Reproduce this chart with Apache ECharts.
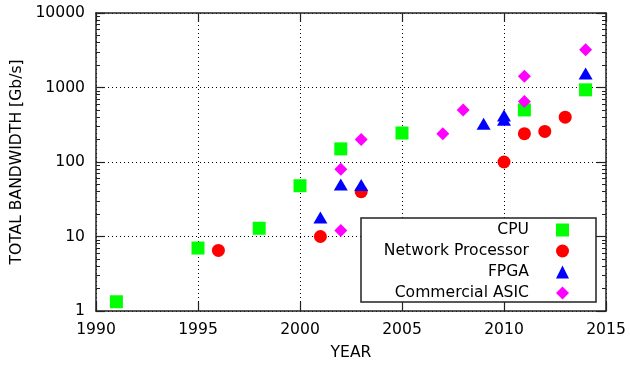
<!DOCTYPE html>
<html><head><meta charset="utf-8">
<script src="https://cdn.jsdelivr.net/npm/echarts@6/dist/echarts.min.js"></script>
<style>html,body{margin:0;padding:0;background:#fff}#c{width:630px;height:366px}</style>
</head><body><div id="c"></div>
<script>
const seriesNames = ['CPU', 'Network Processor', 'FPGA', 'Commercial ASIC'];
const cpuYears = [1991, 1995, 1998, 2000, 2002, 2005, 2011, 2014];
const cpuValues = [1.33, 7, 12.9, 48, 150, 245, 500, 930];
const npYears = [1996, 2001, 2003, 2010, 2011, 2012, 2013];
const npValues = [6.5, 10, 40, 100, 240, 257, 400];
const fpgaYears = [2001, 2002, 2003, 2009, 2010, 2010, 2014];
const fpgaValues = [18, 50, 49, 325, 420, 370, 1540];
const asicYears = [2002, 2002, 2003, 2007, 2008, 2011, 2011, 2014];
const asicValues = [12, 80, 200, 240, 500, 650, 1420, 3200];
const xTicks = [1990, 1995, 2000, 2005, 2010, 2015];
const yTicks = [1, 10, 100, 1000, 10000];
const yMinorTicks = [2, 3, 4, 5, 6, 7, 8, 9, 20, 30, 40, 50, 60, 70, 80, 90,
  200, 300, 400, 500, 600, 700, 800, 900, 2000, 3000, 4000, 5000, 6000, 7000, 8000, 9000];

const FONT = 'DejaVu Sans';
const FS = 15.6;
function pairs(xs, ys) { return xs.map((x, i) => [x, ys[i]]); }

const black = '#000';
const frame = '#222';
const baseX = {
  type: 'value', min: xTicks[0], max: xTicks[xTicks.length - 1], interval: 5,
  axisLine: { show: true, lineStyle: { color: frame, width: 1.5 } },
  axisTick: { show: true, inside: true, length: 9, lineStyle: { color: frame, width: 1.2 } },
  axisLabel: { show: false },
  splitLine: { show: false }
};
const baseY = {
  type: 'log', logBase: 10, min: yTicks[0], max: yTicks[yTicks.length - 1],
  axisLine: { show: true, lineStyle: { color: frame, width: 1.5 } },
  axisTick: { show: true, inside: true, length: 9, lineStyle: { color: frame, width: 1.2 } },
  axisLabel: { show: false },
  splitLine: { show: false }
};
const minorTick = { show: true, inside: true, length: 4, lineStyle: { color: frame, width: 1 }, customValues: yMinorTicks };

const option = {
  animation: false,
  backgroundColor: '#fff',
  grid: { left: 96, right: 24, top: 13, bottom: 53.5, containLabel: false },
  xAxis: [
    Object.assign({}, baseX, {
      position: 'bottom',
      axisLabel: { show: true, color: black, fontSize: FS, fontFamily: FONT, margin: 11,
        formatter: v => String(v) },
      splitLine: { show: true, lineStyle: { color: black, width: 1, type: [1, 3] } },
      name: 'YEAR', nameLocation: 'middle', nameGap: 34,
      nameTextStyle: { color: black, fontSize: FS, fontFamily: FONT }
    }),
    Object.assign({}, baseX, { position: 'top' })
  ],
  yAxis: [
    Object.assign({}, baseY, {
      position: 'left',
      axisLabel: { show: true, color: black, fontSize: FS, fontFamily: FONT, margin: 11,
        formatter: v => String(Math.round(v)) },
      splitLine: { show: true, lineStyle: { color: black, width: 1, type: [1, 3] } },
      name: 'TOTAL BANDWIDTH [Gb/s]', nameLocation: 'middle', nameGap: 71, nameRotate: 90,
      nameTextStyle: { color: black, fontSize: FS, fontFamily: FONT }
    }),
    Object.assign({}, baseY, { position: 'left', axisLine: { show: false }, axisTick: minorTick }),
    Object.assign({}, baseY, { position: 'right' }),
    Object.assign({}, baseY, { position: 'right', axisLine: { show: false }, axisTick: minorTick })
  ],
  legend: {
    orient: 'vertical', right: 34, top: 218, align: 'right',
    itemWidth: 13, itemHeight: 13, itemGap: 5,
    padding: [4, 27, 1, 14],
    backgroundColor: '#fff', borderColor: frame, borderWidth: 1.5,
    textStyle: { fontSize: FS, fontFamily: FONT, color: black, width: 154, align: 'right',
      padding: [0, 22, 0, 0], lineHeight: 16 },
    data: seriesNames
  },
  series: [
    { name: seriesNames[0], type: 'scatter', symbol: 'rect', symbolSize: 13,
      itemStyle: { color: '#00ff00', opacity: 1 }, data: pairs(cpuYears, cpuValues) },
    { name: seriesNames[1], type: 'scatter', symbol: 'circle', symbolSize: 13,
      itemStyle: { color: '#ff0000', opacity: 1 }, data: pairs(npYears, npValues) },
    { name: seriesNames[2], type: 'scatter', symbol: 'triangle', symbolSize: [14, 12],
      itemStyle: { color: '#0000ff', opacity: 1 }, data: pairs(fpgaYears, fpgaValues) },
    { name: seriesNames[3], type: 'scatter', symbol: 'diamond', symbolSize: 13,
      itemStyle: { color: '#ff00ff', opacity: 1 }, data: pairs(asicYears, asicValues) }
  ]
};
const chart = echarts.init(document.getElementById('c'), null, { renderer: 'canvas' });
chart.setOption(option);
</script>
</body></html>
